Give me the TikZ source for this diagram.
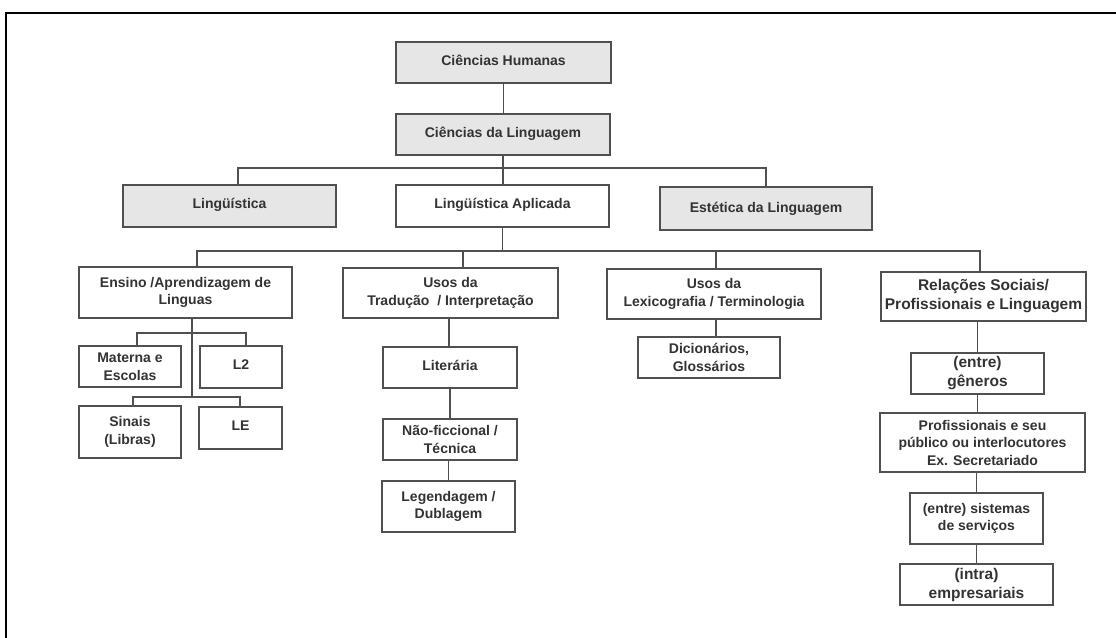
\documentclass[tikz,border=0pt]{standalone}
\usepackage{fontspec}
\setmainfont{Liberation Sans}
\definecolor{ln}{HTML}{505050}
\definecolor{tx}{HTML}{333333}
\definecolor{gf}{HTML}{E6E6E6}
\newcommand{\lift}[2][5pt]{\raisebox{#1}{#2}}
\begin{document}
\begin{tikzpicture}[x=1pt,y=-1pt,
  box/.style={draw=ln, line width=1.1pt, fill=white, text=tx,
    font=\bfseries\fontsize{14}{17.5}\selectfont, align=center,
    inner sep=0pt, outer sep=0pt},
  gbox/.style={box, fill=gf},
  big/.style={font=\bfseries\fontsize{15.5}{19}\selectfont},
  conn/.style={draw=ln, line width=1.1pt}]
\useasboundingbox (0,0) rectangle (1116,637);
\fill[white] (0,0) rectangle (1116,637);
\draw[line width=2.2pt, line cap=rect] (6,637) -- (6,13) -- (1116,13);

% level 0-2
\node[gbox, minimum width=215, minimum height=41] (CH) at (503.5,62.5) {\lift{Ciências Humanas}};
\node[gbox, minimum width=214, minimum height=41] (CL) at (503,134.5) {\lift{Ciências da Linguagem}};
\node[gbox, minimum width=213, minimum height=42] (Ling) at (229.5,206) {\lift{Lingüística}};
\node[box, minimum width=213, minimum height=42] (LA) at (502.5,206) {\lift{Lingüística Aplicada}};
\node[gbox, minimum width=212, minimum height=43] (Est) at (766,208.5) {\lift[3pt]{Estética da Linguagem}};

% level 3
\node[box, minimum width=213, minimum height=51] (Ens) at (185.5,292.5) {Ensino /Aprendizagem de\\Linguas};
\node[box, minimum width=215, minimum height=50] (UT) at (450.5,293) {Usos da\\Tradução \ / Interpretação};
\node[box, minimum width=214, minimum height=50] (Lex) at (714,294) {Usos da\\Lexicografia / Terminologia};
\node[box, big, minimum width=205, minimum height=49] (Rel) at (983.5,296.5) {Relações Sociais/\\Profissionais e Linguagem};

% Ensino children
\node[box, minimum width=102, minimum height=41] (Mat) at (130,366.5) {Materna e\\Escolas};
\node[box, minimum width=82, minimum height=42] (L2) at (241,367) {\lift{L2}};
\node[box, minimum width=102, minimum height=52] (Sin) at (130,432) {Sinais\\(Libras)};
\node[box, minimum width=83, minimum height=42] (LE) at (240.5,428) {\lift{LE}};

% Traducao children
\node[box, minimum width=134, minimum height=41] (Lit) at (450,367.5) {\lift{Literária}};
\node[box, minimum width=134, minimum height=41] (Nao) at (450,439.5) {Não-ficcional /\\Técnica};
\node[box, minimum width=133, minimum height=51] (Leg) at (448.5,506.5) {Legendagem /\\Dublagem};

% Lexicografia child
\node[box, minimum width=142, minimum height=41] (Dic) at (709,357.5) {Dicionários,\\Glossários};

% Relacoes children
\node[box, big, minimum width=133, minimum height=41] (Gen) at (977.5,373.5) {(entre)\\gêneros};
\node[box, minimum width=205, minimum height=59] (Prof) at (982.5,442.5) {Profissionais e seu\\público ou interlocutores\\Ex. Secretariado};
\node[box, minimum width=133, minimum height=51] (Sis) at (976.5,518.5) {(entre) sistemas\\de serviços};
\node[box, big, minimum width=153, minimum height=41] (Emp) at (976.5,584.5) {(intra)\\empresariais};

% connectors top
\draw[conn] (CH.south) -- (CH.south |- CL.north);
\draw[conn] (CL.south) -- (CL.south |- LA.north);
\coordinate (b2) at (0,168);
\coordinate (lingIn) at ([xshift=8.5]Ling.north);
\draw[conn] (lingIn) |- (Est.north |- b2) -- (Est.north);

% level 3 bar
\coordinate (b3) at (0,251);
\coordinate (ensIn) at ([xshift=11.5]Ens.north);
\coordinate (relIn) at ([xshift=-3.5]Rel.north);
\coordinate (utIn) at ([xshift=12.5]UT.north);
\coordinate (lexIn) at ([xshift=2]Lex.north);
\draw[conn] (ensIn) |- (relIn |- b3) -- (relIn);
\draw[conn] (LA.south) -- (LA.south |- b3);
\draw[conn] (utIn |- b3) -- (utIn);
\draw[conn] (lexIn |- b3) -- (lexIn);

% Ensino tree
\coordinate (b4) at (0,333);
\coordinate (b5) at (0,397);
\coordinate (ensOut) at ([xshift=6.5]Ens.south);
\coordinate (matIn) at ([xshift=7]Mat.north);
\coordinate (l2In) at ([xshift=5]L2.north);
\coordinate (sinIn) at ([xshift=3]Sin.north);
\coordinate (leIn) at ([xshift=-0.5]LE.north);
\draw[conn] (ensOut) -- (ensOut |- b5);
\draw[conn] (matIn) |- (l2In |- b4) -- (l2In);
\draw[conn] (sinIn) |- (leIn |- b5) -- (leIn);

% Traducao chain
\coordinate (utOut) at ([xshift=-1.5]UT.south);
\draw[conn] (utOut) -- (utOut |- Lit.north);
\draw[conn] (Lit.south) -- (Lit.south |- Nao.north);
\draw[conn] (Leg.north |- Nao.south) -- (Leg.north);

% Lexicografia
\coordinate (lexOut) at ([xshift=2]Lex.south);
\draw[conn] (lexOut) -- (lexOut |- Dic.north);

% Relacoes chain
\draw[conn] (Gen.north |- Rel.south) -- (Gen.north);
\draw[conn] (Gen.south) -- (Gen.south |- Prof.north);
\draw[conn] (Sis.north |- Prof.south) -- (Sis.north);
\draw[conn] (Sis.south) -- (Emp.north);
\end{tikzpicture}
\end{document}
